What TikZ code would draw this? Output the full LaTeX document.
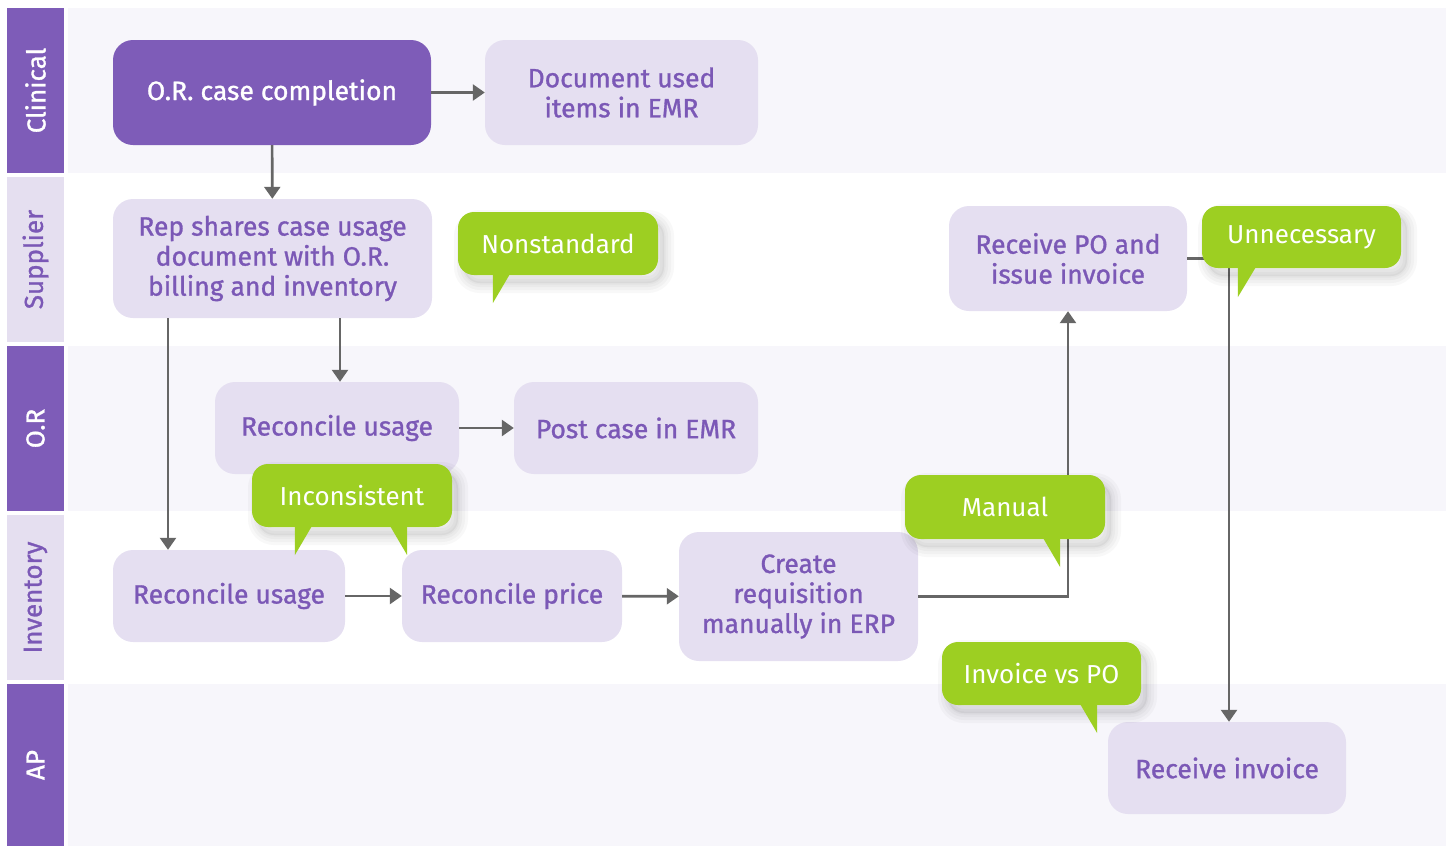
\documentclass[tikz,border=0pt]{standalone}
\usepackage{fontspec}
\setmainfont{Fira Sans}
\newfontfamily\boxfont[FakeBold=1.1]{Fira Sans}
\usetikzlibrary{positioning, arrows.meta, calc}
\usepackage{xcolor}
\definecolor{lanePurple}{HTML}{7E5CB8}
\definecolor{laneLight}{HTML}{E5DFF0}
\definecolor{laneShade}{HTML}{F7F6FB}
\definecolor{boxFill}{HTML}{E5DFF1}
\definecolor{boxText}{HTML}{7B58B6}
\definecolor{noteGreen}{HTML}{9DCF22}
\definecolor{flowGray}{HTML}{666666}

\tikzset{
	tagDark/.style = {rectangle, fill=lanePurple, text=white, rotate=90, minimum height=57pt, inner sep=0pt, font=\boxfont\fontsize{26}{30}\selectfont},
	tagLight/.style = {tagDark, fill=laneLight, text=boxText},
	stepBox/.style = {rectangle, rounded corners=20pt, fill=boxFill, text=boxText, align=center, inner sep=0pt, font=\boxfont\fontsize{26.5}{30}\selectfont},
	keyBox/.style = {stepBox, fill=lanePurple, text=white},
	flow/.style = {draw=flowGray, line width=2.6pt, -{Triangle[width=16pt, length=12pt]}},
	softShade/.style = {preaction={draw=black, opacity=0.028, line width=#1, transform canvas={xshift=6pt, yshift=-8pt}}},
	note/.style = {rectangle, rounded corners=16pt, fill=noteGreen, text=white, inner sep=0pt, minimum width=200pt, minimum height=63pt, font=\fontsize{26}{30}\selectfont,
		preaction={fill=black, opacity=0.05, transform canvas={xshift=6pt, yshift=-8pt}},
		softShade=20pt, softShade=14pt, softShade=8pt, softShade=3pt},
	noteTail/.style = {fill=noteGreen}
}

\begin{document}
\begin{tikzpicture}[x=1pt, y=-1pt]
		\useasboundingbox (0,0) rectangle (1448,846);
		% lanes
		\fill[laneShade] (68,8) rectangle (1446,173);
		\fill[laneShade] (68,346) rectangle (1446,511);
		\fill[laneShade] (68,684) rectangle (1446,846);
		\node (clinicalTag)[tagDark, minimum width=165pt] at (35.5,90.5) {Clinical};
		\node (supplierTag)[tagLight, minimum width=165pt] at (35.5,259.5) {Supplier};
		\node (orTag)[tagDark, minimum width=165pt] at (35.5,428.5) {O.R};
		\node (inventoryTag)[tagLight, minimum width=165pt] at (35.5,597.5) {Inventory};
		\node (apTag)[tagDark, minimum width=162pt] at (35.5,765) {AP};

		% steps
		\node (caseDone)[keyBox, minimum width=318pt, minimum height=105pt] at (272,92.5) {O.R. case completion};
		\node (docUsed)[stepBox, minimum width=273pt, minimum height=105pt] at (621.5,92.5) {Document used\\items in EMR};
		\node (repShares)[stepBox, minimum width=319pt, minimum height=119pt] at (272.5,258.5) {Rep shares case usage\\document with O.R.\\billing and inventory};
		\node (receivePO)[stepBox, minimum width=238pt, minimum height=105pt] at (1068,258.5) {Receive PO and\\issue invoice};
		\node (orReconcile)[stepBox, minimum width=244pt, minimum height=92pt] at (337,428) {Reconcile usage};
		\node (postCase)[stepBox, minimum width=244pt, minimum height=92pt] at (636,428) {Post case in EMR};
		\node (invReconcile)[stepBox, minimum width=232pt, minimum height=92pt] at (229,596) {Reconcile usage};
		\node (priceReconcile)[stepBox, minimum width=220pt, minimum height=92pt] at (512,596) {Reconcile price};
		\node (createReq)[stepBox, minimum width=239pt, minimum height=129pt] at (798.5,596.5) {Create\\requisition\\manually in ERP};
		\node (receiveInvoice)[stepBox, minimum width=238pt, minimum height=92pt] at (1227,768) {Receive invoice};

		\draw[flow] (caseDone) -- (docUsed);
		\draw[flow] (caseDone) -- (repShares);
		\draw[flow] ([xshift=-61pt]invReconcile.north |- repShares.south) -- ([xshift=-61pt]invReconcile.north);
		\draw[flow] ([xshift=3pt]orReconcile.north |- repShares.south) -- ([xshift=3pt]orReconcile.north);
		\draw[flow] (orReconcile) -- (postCase);
		\draw[flow] (invReconcile) -- (priceReconcile);
		\draw[flow] (priceReconcile) -- (createReq);
		\draw[flow] (createReq.east) -| (receivePO.south);
		\draw[flow] (receivePO.east) -| ([xshift=2pt]receiveInvoice.north);

		% callouts
		\node (nonstandard)[note] at (558,243.5) {Nonstandard};
		\fill[noteTail] ([xshift=35pt, yshift=1pt]nonstandard.south west) -- ++(0,29) -- ++(17,-29) -- cycle;
		\node (unnecessary)[note, minimum width=199pt, minimum height=62pt] at (1301.5,237) {Unnecessary};
		\fill[noteTail] ([xshift=36pt, yshift=1pt]unnecessary.south west) -- ++(0,30) -- ++(18,-30) -- cycle;
		\node (inconsistent)[note] at (352,495.5) {Inconsistent};
		\fill[noteTail] ([xshift=43pt, yshift=1pt]inconsistent.south west) -- ++(0,29) -- ++(17,-29) -- cycle;
		\fill[noteTail] ([xshift=-45pt, yshift=1pt]inconsistent.south east) -- ++(0,29) -- ++(-17,-29) -- cycle;
		\node (manual)[note, minimum height=64pt] at (1005,507) {Manual};
		\fill[noteTail] ([xshift=-45pt, yshift=1pt]manual.south east) -- ++(0,29) -- ++(-17,-29) -- cycle;
		\node (invoiceVsPO)[note, minimum width=199pt] at (1041.5,673.5) {Invoice vs PO};
		\fill[noteTail] ([xshift=-44pt, yshift=1pt]invoiceVsPO.south east) -- ++(0,29) -- ++(-17,-29) -- cycle;
	\end{tikzpicture}
\end{document}
